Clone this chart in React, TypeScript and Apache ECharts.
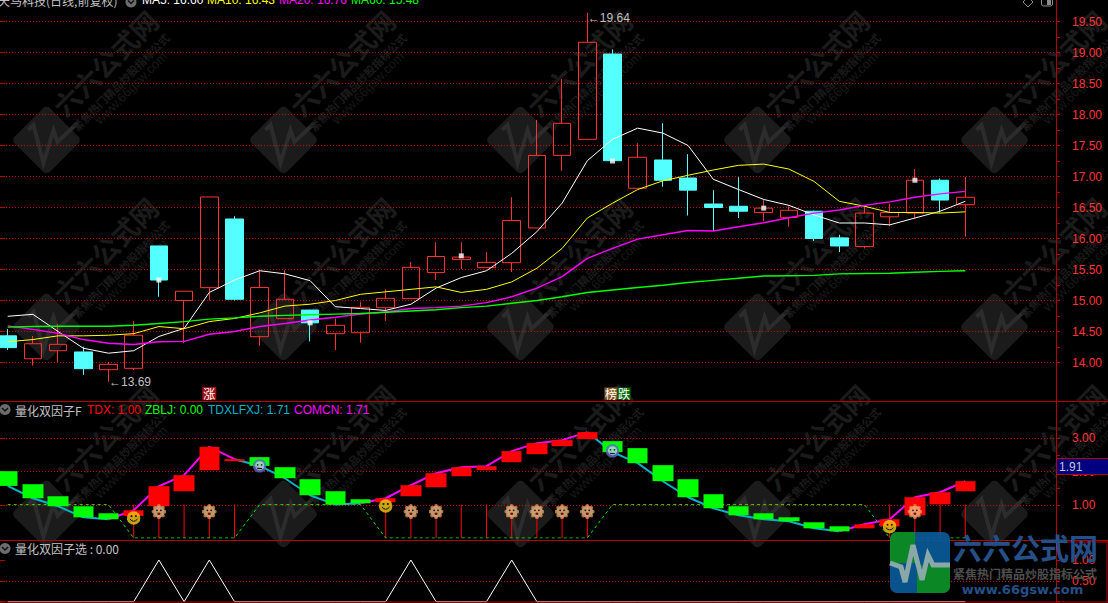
import React, { useEffect, useRef } from "react";
import * as echarts from "echarts";

// ---- data ----
const categories = Array.from({ length: 42 }, (_, i) => String(i + 1));

const opens = [14.43, 14.06, 14.19, 14.17, 13.884, 13.906, 15.88, 15.0, 15.207, 16.315, 14.416, 14.707, 14.846, 14.465, 14.48, 14.884, 15.03, 15.45, 15.66, 15.53, 15.61, 16.17, 17.34, 17.6, 18.976, 16.81, 17.266, 16.976, 16.556, 16.52, 16.42, 16.34, 16.44, 16.01, 15.87, 16.35, 16.41, 16.94, 16.545];
const closes = [14.24, 14.303, 14.293, 13.9, 13.97, 14.44, 15.33, 15.15, 16.67, 15.02, 15.21, 15.02, 14.64, 14.6, 14.89, 15.035, 15.535, 15.71, 15.7, 15.615, 16.29, 17.34, 17.858, 19.165, 17.255, 17.31, 16.94, 16.78, 16.5, 16.44, 16.49, 16.455, 16.0, 15.88, 16.41, 16.42, 16.94, 16.62, 16.665];
const lows = [14.2, 13.948, 14.01, 13.8, 13.69, 13.88, 15.06, 14.31, 15.0, 15.0, 14.27, 14.7, 14.34, 14.2, 14.32, 14.67, 15.03, 15.33, 15.51, 15.53, 15.46, 16.17, 17.09, 17.6, 17.25, 16.81, 16.835, 16.37, 16.12, 16.33, 16.28, 16.19, 15.96, 15.78, 15.84, 16.2, 16.33, 16.42, 16.03];
const highs = [14.54, 14.427, 14.62, 14.255, 14.01, 14.665, 15.88, 15.15, 16.67, 16.36, 15.5, 15.49, 14.85, 14.71, 14.98, 15.18, 15.62, 15.94, 15.94, 15.78, 16.665, 17.91, 18.57, 19.64, 19.05, 17.535, 17.86, 17.36, 16.78, 16.99, 16.63, 16.52, 16.45, 16.06, 16.54, 16.56, 17.12, 16.97, 16.99];

const ma5 = [14.745, 14.777, 14.5, 14.23, 14.15, 14.19, 14.42, 14.55, 15.13, 15.33, 15.48, 15.43, 15.32, 14.9, 14.87, 14.84, 14.94, 15.2, 15.37, 15.48, 15.76, 16.11, 16.57, 17.255, 17.6, 17.78, 17.7, 17.5, 16.955, 16.79, 16.63, 16.535, 16.38, 16.25, 16.25, 16.22, 16.33, 16.44, 16.6];
const ma10 = [14.335, 14.37, 14.43, 14.43, 14.44, 14.465, 14.58, 14.545, 14.66, 14.71, 14.8, 14.91, 14.94, 15.0, 15.1, 15.14, 15.18, 15.22, 15.13, 15.18, 15.3, 15.52, 15.84, 16.33, 16.57, 16.79, 16.93, 17.02, 17.105, 17.18, 17.2, 17.12, 16.92, 16.6, 16.52, 16.42, 16.42, 16.41, 16.43];
const ma20 = [14.59, 14.535, 14.47, 14.37, 14.31, 14.29, 14.335, 14.34, 14.455, 14.5, 14.58, 14.63, 14.685, 14.73, 14.78, 14.815, 14.87, 14.885, 14.91, 14.965, 15.06, 15.2, 15.385, 15.68, 15.84, 15.99, 16.06, 16.13, 16.12, 16.19, 16.255, 16.335, 16.41, 16.46, 16.535, 16.59, 16.665, 16.72, 16.76];
const ma60 = [14.57, 14.58, 14.585, 14.585, 14.585, 14.6, 14.63, 14.66, 14.7, 14.72, 14.745, 14.76, 14.77, 14.78, 14.79, 14.81, 14.83, 14.85, 14.885, 14.91, 14.955, 15.0, 15.06, 15.13, 15.17, 15.21, 15.245, 15.29, 15.325, 15.36, 15.395, 15.4, 15.405, 15.43, 15.435, 15.44, 15.455, 15.47, 15.48];

// white squares on the candles: [bar, price]
const whiteMarks = [[6, 15.33], [12, 14.64], [18, 15.72], [24, 17.25], [30, 16.49], [36, 16.94]];

const priceTicks = { min: 14, max: 19.5, step: 0.5 };
const factorTicks = { min: 1, max: 3, step: 1 };
const pickTicks = { min: 0, max: 1, step: 0.5 };

const lowMark = [4, 13.69];
const highMark = [23, 19.64];

// factor panel blocks
const blockOpen = [2.0, 1.61, 1.25, 0.95, 0.74, 0.66, 0.95, 1.4, 2.03, 2.3, 2.42, 2.12, 1.76, 1.4, 1.16, 1.07, 1.25, 1.52, 1.85, 2.03, 2.27, 2.51, 2.75, 2.96, 2.9, 2.69, 2.18, 1.76, 1.31, 0.95, 0.74, 0.62, 0.47, 0.35, 0.29, 0.35, 0.68, 1.01, 1.4];
const blockClose = [1.56, 1.19, 0.95, 0.62, 0.56, 0.83, 1.55, 1.88, 2.73, 2.36, 2.16, 1.79, 1.28, 1.0, 1.04, 1.19, 1.58, 1.94, 2.12, 2.15, 2.6, 2.84, 2.93, 3.17, 2.57, 2.24, 1.7, 1.22, 0.89, 0.68, 0.56, 0.5, 0.29, 0.2, 0.41, 0.56, 1.22, 1.37, 1.7];
const risingSegments = [[4, 9], [14, 23], [33, 38]];
const fallingSegments = [[0, 4], [9, 14], [23, 33]];
const tdxSticks = [null, null, null, null, null, 1, 1, 1, 1, 1, null, null, null, null, null, 1, 1, 1, 1, 1, 1, 1, 1, 1, null, null, null, null, null, null, null, null, null, null, null, 1, 1, 1, 1];
const zbljLine = [1, 1, 1, 1, 1, 0, 0, 0, 0, 0, 1, 1, 1, 1, 1, 0, 0, 0, 0, 0, 0, 0, 0, 0, 1, 1, 1, 1, 1, 1, 1, 1, 1, 1, 1, 0, 0, 0, 0];
const smileFaces = [[5, 0.6], [15, 0.96], [35, 0.34]];
const sadFaces = [[10, 2.16], [24, 2.61]];
const flowerFaces = [[6, 0.79], [8, 0.79], [16, 0.79], [17, 0.79], [20, 0.79], [21, 0.79], [22, 0.79], [23, 0.79], [36, 0.79]];

// pick panel
const pickLine = [0, 0, 0, 0, 0, 0, 1, 0, 1, 0, 0, 0, 0, 0, 0, 0, 1, 0, 0, 0, 1, 0, 0, 0, 0, 0, 0, 0, 0, 0, 0, 0, 0, 0, 0, 0, 0, 0, 0];

const legendPrice = [
  { text: "MA5: 16.60", x: 142, color: "#ffffff" },
  { text: "MA10: 16.43", x: 207, color: "#ffff00" },
  { text: "MA20: 16.76", x: 279, color: "#ff00ff" },
  { text: "MA60: 15.48", x: 351, color: "#00ff00" },
];
const legendFactor = [
  { text: "TDX: 1.00", x: 87, color: "#ff0000" },
  { text: "ZBLJ: 0.00", x: 145, color: "#00ff00" },
  { text: "TDXLFXJ: 1.71", x: 208, color: "#00b4c8" },
  { text: "COMCN: 1.71", x: 294, color: "#ff00ff" },
];

// ---- styling helpers ----
const FONT = '"Liberation Sans", "Noto Sans CJK SC", sans-serif';
const CJK = '"Noto Sans CJK SC", "Liberation Sans", sans-serif';
const RED = "#ff3232";
const FRAME = "#b40000";

const svgUri = (body: string) =>
  "image://data:image/svg+xml," +
  encodeURIComponent(`<svg xmlns="http://www.w3.org/2000/svg" width="28" height="28" viewBox="0 0 14 14">${body}</svg>`);

const smileIcon = svgUri(
  `<circle cx="7" cy="7" r="6.8" fill="#f2cc14"/><circle cx="4.8" cy="5" r="1" fill="#111"/><circle cx="9.2" cy="5" r="1" fill="#111"/><path d="M3.3 8.2Q7 12.4 10.7 8.2" fill="none" stroke="#111" stroke-width="1"/>`
);
const sadIcon = svgUri(
  `<circle cx="7" cy="7" r="6.8" fill="#5a6cc4"/><circle cx="7" cy="7" r="4.6" fill="#c2c8ee"/><circle cx="5" cy="6" r="0.9" fill="#111"/><circle cx="9" cy="6" r="0.9" fill="#111"/><path d="M4.6 9.6H9.4" fill="none" stroke="#111" stroke-width="1"/>`
);
const petals = [[7, 1.8], [10.7, 3.3], [12.2, 7], [10.7, 10.7], [7, 12.2], [3.3, 10.7], [1.8, 7], [3.3, 3.3]]
  .map(([x, y]) => `<circle cx="${x}" cy="${y}" r="1.8" fill="#d89048"/>`)
  .join("");
const flowerIcon = svgUri(
  `${petals}<circle cx="7" cy="7" r="5.4" fill="#f2bc88"/><circle cx="5.2" cy="5.8" r="0.85" fill="#222"/><circle cx="8.8" cy="5.8" r="0.85" fill="#222"/><ellipse cx="7" cy="9" rx="1.4" ry="1.1" fill="#5a1a10"/>`
);

const hiddenX = (gridIndex: number) => ({
  type: "value" as const,
  gridIndex,
  min: 0,
  max: 1,
  show: false,
});
const dataX = (gridIndex: number) => ({
  type: "category" as const,
  gridIndex,
  data: categories,
  boundaryGap: true,
  show: false,
});
const frameY = (gridIndex: number, t: { min: number; max: number; step: number }, extra: object = {}) => ({
  type: "value" as const,
  gridIndex,
  position: "right" as const,
  min: t.min,
  max: t.max,
  interval: t.step,
  axisLine: { show: false },
  axisTick: { show: true, length: 5, lineStyle: { color: FRAME } },
  axisLabel: { color: RED, fontFamily: FONT, fontSize: 12, margin: 15, formatter: (v: number) => v.toFixed(2) },
  splitLine: { show: true, lineStyle: { color: "#d00000", type: [1, 2] as any, width: 1 } },
  ...extra,
});
// a second, unlabelled axis that only carries the short ticks between the labelled ones
const halfTickY = (gridIndex: number, t: { min: number; max: number; step: number }) => ({
  type: "value" as const,
  gridIndex,
  position: "right" as const,
  min: t.min,
  max: t.max,
  interval: t.step / 2,
  axisLine: { show: false },
  axisTick: { show: true, length: 3, lineStyle: { color: FRAME } },
  axisLabel: { show: false },
  splitLine: { show: false },
});
const dataY = (gridIndex: number, min: number, max: number) => ({
  type: "value" as const,
  gridIndex,
  min,
  max,
  show: false,
  splitLine: { show: false },
});

const maSeries = (name: string, values: number[], color: string, width: number) => ({
  name,
  type: "line" as const,
  xAxisIndex: 1,
  yAxisIndex: 1,
  data: values,
  symbol: "none",
  z: 5,
  lineStyle: { color, width },
});

const segmentValues = (segments: number[][]) =>
  blockClose.map((v, i) => (segments.some(([a, b]) => i >= a && i <= b) ? v : null));

const faceSeries = (data: number[][], symbol: string, size: number) => ({
  type: "scatter" as const,
  xAxisIndex: 3,
  yAxisIndex: 3,
  data,
  symbol,
  symbolSize: size,
  z: 9,
  clip: false,
});

const markAt = (coord: number[], label: object) => ({
  coord,
  symbol: "circle",
  symbolSize: 1,
  itemStyle: { color: "rgba(0,0,0,0)" },
  label: { show: true, ...label },
});

// ---- graphics: watermark, frame, legends, logo ----
function watermark() {
  const els: any[] = [];
  const wm = "#1b1b1b";
  for (let c = 0; c < 5; c++) {
    for (let r = 0; r < 3; r++) {
      const x = 46.5 + c * 237;
      const y = 140 + r * 187;
      els.push({
        type: "rect",
        z: -5,
        x,
        y,
        rotation: Math.PI / 4,
        shape: { x: -25, y: -25, width: 50, height: 50, r: 5 },
        style: { fill: wm },
      });
      els.push({
        type: "polyline",
        z: -4,
        x,
        y,
        shape: { points: [[-18, -10], [-13, -15], [-3, 23], [7, -10], [11, 2], [31, -17]] },
        style: { stroke: "#2c2c2c", lineWidth: 4, fill: "none" },
      });
      els.push({
        type: "text",
        z: -4,
        x: x + 58.5,
        y: y - 77,
        rotation: Math.PI / 4,
        style: { text: "六六公式网", fill: wm, font: `bold 27px ${CJK}`, textAlign: "center", textVerticalAlign: "middle" },
      });
      els.push({
        type: "text",
        z: -4,
        x: x + 74,
        y: y - 58,
        rotation: Math.PI / 4,
        style: { text: "紧焦热门精品炒股指标公式", fill: wm, font: `bold 11px ${CJK}`, textAlign: "center", textVerticalAlign: "middle" },
      });
      els.push({
        type: "text",
        z: -4,
        x: x + 84.5,
        y: y - 52,
        rotation: Math.PI / 4,
        style: { text: "www.66gsw.com", fill: "#191919", font: `13px ${FONT}`, textAlign: "center", textVerticalAlign: "middle" },
      });
    }
  }
  return els;
}

const hline = (x1: number, x2: number, y: number) => ({
  type: "line",
  z: 6,
  shape: { x1, y1: y, x2, y2: y },
  style: { stroke: FRAME, lineWidth: 1 },
});
const vline = (x: number, y1: number, y2: number) => ({
  type: "line",
  z: 6,
  shape: { x1: x, y1, x2: x, y2 },
  style: { stroke: FRAME, lineWidth: 1 },
});

const label = (text: string, x: number, y: number, fill: string, font = `12px ${FONT}`, z = 20) => ({
  type: "text",
  z,
  x,
  y,
  style: { text, fill, font, textVerticalAlign: "middle" },
});

const chevron = (x: number, y: number) => [
  { type: "circle", z: 20, shape: { cx: x, cy: y, r: 5.5 }, style: { fill: "#6c6c6c" } },
  {
    type: "polyline",
    z: 21,
    shape: { points: [[x - 3, y - 1.5], [x, y + 1.5], [x + 3, y - 1.5]] },
    style: { stroke: "#111", lineWidth: 1.5, fill: "none" },
  },
];

function logo() {
  const o = 0.92;
  const base = { z: 40 };
  return [
    { ...base, type: "rect", shape: { x: 890, y: 532, width: 60, height: 61, r: 7 }, style: { fill: "#0a5a98", opacity: o } },
    { ...base, type: "rect", shape: { x: 890, y: 532, width: 25, height: 31, r: [7, 0, 0, 0] }, style: { fill: "#0c8c1c", opacity: o } },
    { ...base, type: "rect", shape: { x: 917, y: 565, width: 33, height: 28, r: [0, 0, 7, 0] }, style: { fill: "#0c8c1c", opacity: o } },
    {
      type: "polyline",
      z: 41,
      shape: { points: [[890, 563], [901, 567], [905, 582], [913, 545], [922, 580], [928, 555], [933, 565], [950, 565]] },
      style: { stroke: "#8aa8a8", lineWidth: 5, fill: "none" },
    },
    {
      type: "text",
      z: 41,
      x: 1025.5,
      y: 546.5,
      style: { text: "六六公式网", fill: "#254f88", font: `bold 29px ${CJK}`, textAlign: "center", textVerticalAlign: "middle" },
    },
    {
      type: "text",
      z: 41,
      x: 1025,
      y: 573,
      style: { text: "紧焦热门精品炒股指标公式", fill: "#4e4e4e", font: `bold 12px ${CJK}`, textAlign: "center", textVerticalAlign: "middle" },
    },
    {
      type: "text",
      z: 41,
      x: 1022.5,
      y: 589,
      style: { text: "www.66gsw.com", fill: "#254f88", font: `bold 13px "DejaVu Sans", sans-serif`, textAlign: "center", textVerticalAlign: "middle" },
    },
  ];
}

function buildOption() {
  const free = { outerBoundsMode: "none" };
  return {
    animation: false,
    backgroundColor: "#000000",
    grid: [
      { ...free, left: 0, width: 1057, top: 21.5, height: 341 },
      { ...free, left: -4.9, width: 1058.4, top: -9.5, height: 434 },
      { ...free, left: 0, width: 1057, top: 438.2, height: 66.8 },
      { ...free, left: -4.9, width: 1058.4, top: 404.4, height: 133.6 },
      { ...free, left: 0, width: 1057, top: 560, height: 41.7 },
      { ...free, left: -4.9, width: 1058.4, top: 560, height: 41.7 },
    ],
    xAxis: [hiddenX(0), dataX(1), hiddenX(2), dataX(3), hiddenX(4), dataX(5)],
    yAxis: [
      frameY(0, priceTicks),
      dataY(1, 13, 20),
      frameY(2, factorTicks),
      dataY(3, 0, 4),
      frameY(4, pickTicks, {
        axisLabel: {
          color: RED,
          fontFamily: FONT,
          fontSize: 12,
          margin: 15,
          formatter: (v: number) => (v === 0 ? "" : v.toFixed(2)),
        },
        splitLine: {
          show: true,
          showMinLine: false,
          showMaxLine: false,
          lineStyle: { color: "#d00000", type: [1, 2], width: 1 },
        },
      }),
      dataY(5, 0, 1),
      halfTickY(0, priceTicks),
      halfTickY(2, factorTicks),
      halfTickY(4, pickTicks),
    ],
    series: [
      {
        name: "K",
        type: "candlestick",
        xAxisIndex: 1,
        yAxisIndex: 1,
        barWidth: 18,
        clip: false,
        z: 3,
        data: opens.map((o, i) => [o, closes[i], lows[i], highs[i]]),
        itemStyle: {
          color: "rgba(0,0,0,0)",
          borderColor: RED,
          color0: "#54ffff",
          borderColor0: "#54ffff",
          borderWidth: 1,
        },
        markPoint: {
          silent: true,
          animation: false,
          data: [
            markAt(lowMark, { position: "right", distance: 0, formatter: "←13.69", color: "#c0c0c0", fontFamily: FONT, fontSize: 12 }),
            markAt(highMark, { position: "right", distance: 0, offset: [0, 5], formatter: "←19.64", color: "#c0c0c0", fontFamily: FONT, fontSize: 12 }),
            markAt([8, 13.5], {
              position: "inside",
              formatter: "涨",
              color: "#ffffff",
              fontFamily: CJK,
              fontSize: 12,
              lineHeight: 13,
              backgroundColor: "#a01010",
              padding: [0, 1],
            }),
            markAt([24, 13.5], {
              position: "inside",
              offset: [5, 0],
              formatter: "{a|榜}{b|跌}",
              rich: {
                a: { color: "#ffffff", fontFamily: CJK, fontSize: 12, lineHeight: 13, backgroundColor: "#8a5a20", padding: [0, 0.5] },
                b: { color: "#ffffff", fontFamily: CJK, fontSize: 12, lineHeight: 13, backgroundColor: "#0c7010", padding: [0, 0.5] },
              },
            }),
          ],
        },
      },
      maSeries("MA5", ma5, "#ffffff", 1),
      maSeries("MA10", ma10, "#ffff00", 1),
      maSeries("MA20", ma20, "#ff00ff", 1.4),
      maSeries("MA60", ma60, "#00ff00", 1.4),
      {
        name: "marks",
        type: "scatter",
        xAxisIndex: 1,
        yAxisIndex: 1,
        data: whiteMarks,
        symbol: "rect",
        symbolSize: 5,
        z: 6,
        itemStyle: { color: "#ffffff" },
      },
      {
        name: "TDX",
        type: "bar",
        xAxisIndex: 3,
        yAxisIndex: 3,
        data: tdxSticks,
        barWidth: 1,
        z: 3,
        itemStyle: { color: "#ff0000" },
      },
      {
        name: "ZBLJ",
        type: "line",
        xAxisIndex: 3,
        yAxisIndex: 3,
        data: zbljLine,
        symbol: "none",
        z: 4,
        lineStyle: { color: "#00ee00", width: 1, type: [3, 3] },
      },
      {
        name: "TDXLFXJ",
        type: "line",
        xAxisIndex: 3,
        yAxisIndex: 3,
        data: segmentValues(fallingSegments),
        symbol: "none",
        z: 5,
        lineStyle: { color: "#00b4c8", width: 2 },
      },
      {
        name: "COMCN",
        type: "line",
        xAxisIndex: 3,
        yAxisIndex: 3,
        data: segmentValues(risingSegments),
        symbol: "none",
        z: 5,
        lineStyle: { color: "#ff00ff", width: 2 },
      },
      {
        name: "blocks",
        type: "candlestick",
        xAxisIndex: 3,
        yAxisIndex: 3,
        barWidth: 21,
        z: 6,
        data: blockOpen.map((o, i) => [o, blockClose[i], Math.min(o, blockClose[i]), Math.max(o, blockClose[i])]),
        itemStyle: { color: "#ff0000", borderColor: "#ff0000", color0: "#00ff00", borderColor0: "#00ff00", borderWidth: 0 },
      },
      faceSeries(smileFaces, smileIcon, 14),
      faceSeries(sadFaces, sadIcon, 14),
      faceSeries(flowerFaces, flowerIcon, 15),
      {
        name: "pick",
        type: "line",
        xAxisIndex: 5,
        yAxisIndex: 5,
        data: pickLine,
        symbol: "none",
        clip: false,
        z: 5,
        lineStyle: { color: "#ffffff", width: 1 },
      },
    ],
    graphic: {
      elements: [
        ...watermark(),
        hline(0, 1108, 401.5),
        hline(0, 1108, 540.5),
        hline(1056, 1107, 542),
        hline(0, 1108, 602),
        vline(1056.5, 0, 603),
        vline(1107, 541, 602),
        {
          type: "rect",
          z: 30,
          shape: { x: 1056.5, y: 458.5, width: 52, height: 16 },
          style: { fill: "#000080", stroke: FRAME, lineWidth: 1 },
        },
        label("1.91", 1059, 467, "#c8c8c8", `12px ${FONT}`, 31),
        label("天马科技(日线,前复权)", -2, 0, "#c0c0c0", `12px ${CJK}`),
        ...chevron(131, 2),
        ...legendPrice.map((l) => label(l.text, l.x, 0, l.color)),
        {
          type: "polygon",
          z: 20,
          shape: { points: [[1028, -3], [1033, 2], [1028, 7], [1023, 2]] },
          style: { stroke: "#8c8c8c", fill: "none", lineWidth: 1 },
        },
        {
          type: "rect",
          z: 20,
          shape: { x: 1041.5, y: -4, width: 11, height: 10, r: 2 },
          style: { stroke: "#8c8c8c", fill: "none", lineWidth: 1 },
        },
        {
          type: "rect",
          z: 20,
          shape: { x: 1047, y: -3, width: 4, height: 8 },
          style: { fill: "#8c8c8c" },
        },
        ...chevron(5, 409.5),
        label("量化双因子F", 15, 410, "#c0c0c0", `12px ${CJK}`),
        ...legendFactor.map((l) => label(l.text, l.x, 410, l.color)),
        ...chevron(5, 548.5),
        label("量化双因子选 : 0.00", 15, 548.5, "#c0c0c0", `12px ${CJK}`),
        ...logo(),
      ],
    },
  };
}

export default function App() {
  const ref = useRef<HTMLDivElement>(null);
  useEffect(() => {
    document.body.style.margin = "0";
    document.body.style.background = "#000";
    const chart = echarts.init(ref.current!, undefined, { renderer: "svg" });
    chart.setOption(buildOption() as any);
    return () => chart.dispose();
  }, []);
  return <div ref={ref} style={{ width: 1108, height: 603, overflow: "hidden" }} />;
}
